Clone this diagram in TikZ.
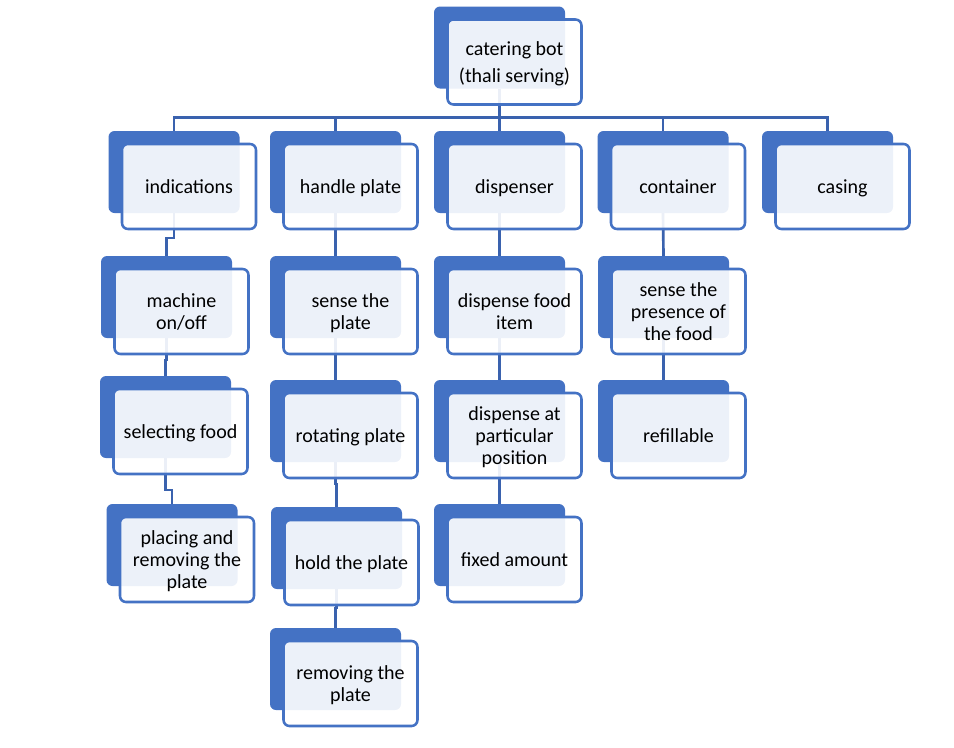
\documentclass[tikz,border=0pt]{standalone}
\usepackage{fontspec}
\setmainfont{Carlito}
\usetikzlibrary{calc}

\definecolor{boxblue}{HTML}{4472C4}
\definecolor{linkblue}{HTML}{3A62AE}

\begin{document}
\begin{tikzpicture}[x=0.75pt, y=-0.75pt,
    back/.style={fill=boxblue, rounded corners=4.5pt, minimum width=98.25pt, minimum height=61.5pt, inner sep=0pt, outer sep=0pt},
    front/.style={draw=boxblue, line width=1.9pt, fill=white, fill opacity=0.9, text opacity=1, rounded corners=4.5pt, minimum width=100.5pt, minimum height=63.75pt, text width=96pt, align=flush center, inner sep=2pt, outer sep=0pt, font=\fontsize{15}{16.5}\selectfont, execute at begin node={\rule{0pt}{15.5pt}}, execute at end node=\strut},
    link/.style={linkblue, line width=2pt}]
        \useasboundingbox (0,0) rectangle (954,747);

        % Fill the dark back boxes
        \node[back] (root_bg) at (499.5,47.5) {};
        \node[back] (ind_bg) at (174,172) {};
        \node[back] (hand_bg) at (335.5,172) {};
        \node[back] (disp_bg) at (499.5,172) {};
        \node[back] (cont_bg) at (663,172) {};
        \node[back] (cas_bg) at (827.5,172) {};
        \node[back] (mach_bg) at (166.5,297) {};
        \node[back] (sense_bg) at (335.5,297) {};
        \node[back] (food_bg) at (499.5,297) {};
        \node[back] (pres_bg) at (663.5,297) {};
        \node[back] (sel_bg) at (165.5,417) {};
        \node[back] (rot_bg) at (335.5,421) {};
        \node[back] (pos_bg) at (499.5,421) {};
        \node[back] (refill_bg) at (663.5,421) {};
        \node[back] (place_bg) at (172,545) {};
        \node[back] (hold_bg) at (336.5,548) {};
        \node[back] (fix_bg) at (499.5,545) {};
        \node[back] (rem_bg) at (335.5,669) {};

        % Draw the links
        \draw[link] (root_bg.south) -- ++(0,29) -| (ind_bg.north);
        \draw[link] (root_bg.south) -- ++(0,29) -| (hand_bg.north);
        \draw[link] (root_bg.south) -- ++(0,29) -| (disp_bg.north);
        \draw[link] (root_bg.south) -- ++(0,29) -| (cont_bg.north);
        \draw[link] (root_bg.south) -- ++(0,29) -| (cas_bg.north);

        \draw[link] (ind_bg.south) -- ++(0,25) -| (mach_bg.north);
        \draw[link] (mach_bg.south) -- ++(0,22) -| (sel_bg.north);
        \draw[link] (sel_bg.south) -- ++(0,32) -| (place_bg.north);

        \draw[link] (hand_bg.south) -- (sense_bg.north);
        \draw[link] (sense_bg.south) -- (rot_bg.north);
        \draw[link] (rot_bg.south) -- ++(0,22) -| (hold_bg.north);
        \draw[link] (hold_bg.south) -- ++(0,19) -| (rem_bg.north);

        \draw[link] (disp_bg.south) -- (food_bg.north);
        \draw[link] (food_bg.south) -- (pos_bg.north);
        \draw[link] (pos_bg.south) -- (fix_bg.north);

        \draw[link] (cont_bg.south) -- (pres_bg.north);
        \draw[link] (pres_bg.south) -- (refill_bg.north);

        % Add the front boxes with their texts
        \node[front] (root) at ($(root_bg)+(15,14.5)$) {catering bot\\[3.75pt](thali serving)};
        \node[front] (ind) at ($(ind_bg)+(15,14.5)$) {indications};
        \node[front] (hand) at ($(hand_bg)+(15,14.5)$) {handle plate};
        \node[front] (disp) at ($(disp_bg)+(15,14.5)$) {dispenser};
        \node[front] (cont) at ($(cont_bg)+(15,14.5)$) {container};
        \node[front] (cas) at ($(cas_bg)+(15,14.5)$) {casing};
        \node[front] (mach) at ($(mach_bg)+(15,14.5)$) {machine\\on/off};
        \node[front] (sense) at ($(sense_bg)+(15,14.5)$) {sense the\\plate};
        \node[front] (food) at ($(food_bg)+(15,14.5)$) {dispense food\\item};
        \node[front] (pres) at ($(pres_bg)+(15,14.5)$) {sense the\\presence of\\the food};
        \node[front] (sel) at ($(sel_bg)+(15,14.5)$) {selecting food};
        \node[front] (rot) at ($(rot_bg)+(15,14.5)$) {rotating plate};
        \node[front] (pos) at ($(pos_bg)+(15,14.5)$) {dispense at\\particular\\position};
        \node[front] (refill) at ($(refill_bg)+(15,14.5)$) {refillable};
        \node[front] (place) at ($(place_bg)+(15,14.5)$) {placing and\\removing the\\plate};
        \node[front] (hold) at ($(hold_bg)+(15,14.5)$) {hold the plate};
        \node[front] (fix) at ($(fix_bg)+(15,14.5)$) {fixed amount};
        \node[front] (rem) at ($(rem_bg)+(15,14.5)$) {removing the\\plate};

    \end{tikzpicture}
\end{document}
